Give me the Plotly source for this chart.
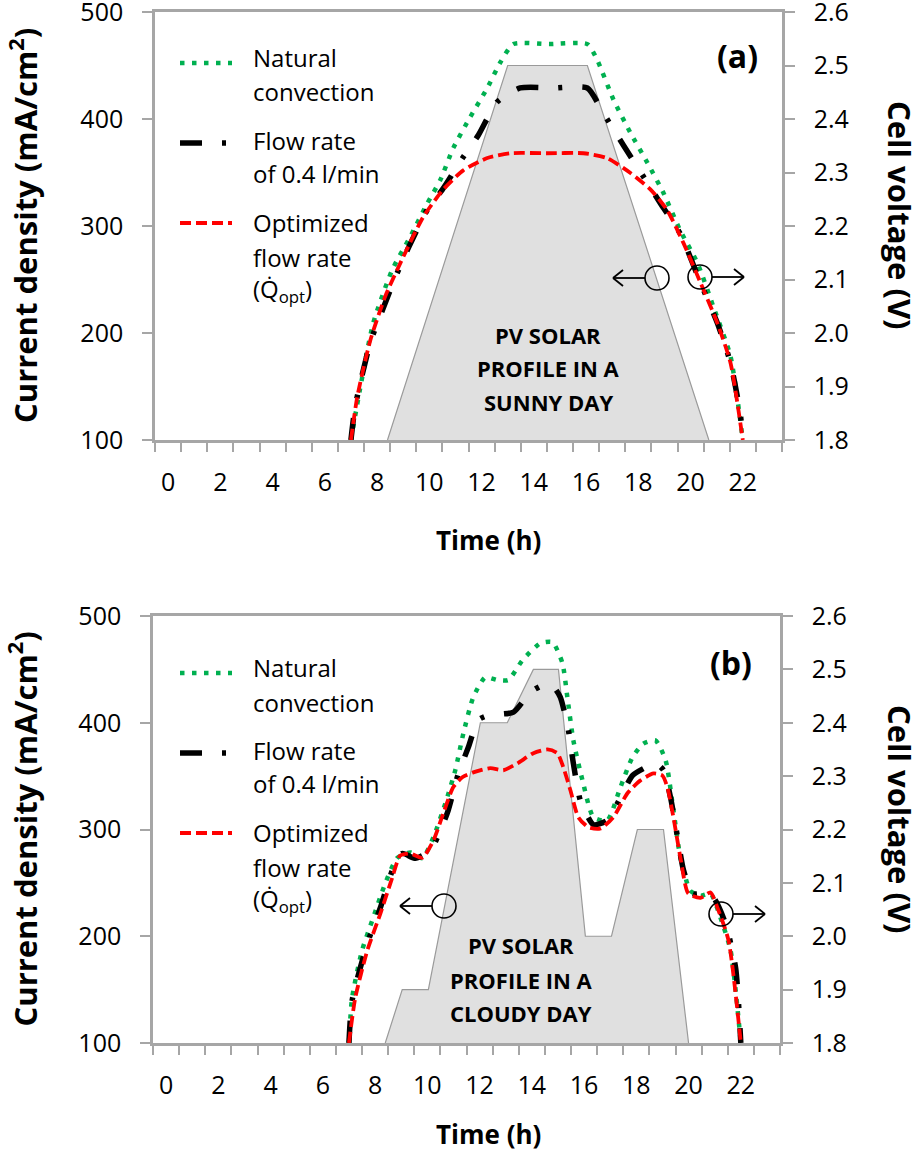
import plotly.graph_objects as go

W, H = 920, 1155
FONT = "Open Sans"

# ---------------- data ----------------
hour_tick_labels = [str(h) for h in range(0, 23, 2)]
cd_ticks = [100, 200, 300, 400, 500]
volt_ticks = [1.8, 1.9, 2.0, 2.1, 2.2, 2.3, 2.4, 2.5, 2.6]

# (a) sunny day - PV profile (current density, mA/cm2)
pv_a_h = [8.4, 13.0, 16.05, 20.7]
pv_a_cd = [100, 450, 450, 100]

# (a) cell voltage curves
a_nat_h = [7.0, 7.35, 7.85, 8.58, 9.27, 9.92, 10.42, 10.92, 11.57, 12.22, 12.72, 13.22, 14.6, 16.05,
           16.43, 17.05, 17.7, 18.35, 18.96, 19.6, 20.27, 20.88, 21.53, 22.0]
a_nat_v = [1.80, 1.896, 2.018, 2.118, 2.18, 2.242, 2.286, 2.346, 2.404, 2.458, 2.506, 2.54, 2.54, 2.54,
           2.51, 2.436, 2.374, 2.318, 2.262, 2.192, 2.13, 2.048, 1.956, 1.80]

a_flow_h = [7.0, 7.16, 7.74, 8.2, 8.7, 9.19, 9.92, 10.5, 11.26, 11.88, 12.6, 13.48, 14.8, 16.05,
            16.66, 17.43, 18.2, 18.85, 19.6, 20.38, 21.03, 21.53, 21.9, 22.0]
a_flow_v = [1.80, 1.862, 1.982, 2.042, 2.104, 2.158, 2.23, 2.268, 2.326, 2.37, 2.432, 2.458, 2.458, 2.458,
            2.411, 2.351, 2.292, 2.242, 2.186, 2.094, 2.018, 1.944, 1.85, 1.80]

a_opt_h = [7.0, 7.24, 7.74, 8.31, 9.0, 9.77, 10.53, 11.3, 12.22, 13.1, 14.5, 15.9,
           16.8, 17.7, 18.47, 19.1, 19.73, 20.38, 21.03, 21.53, 22.0]
a_opt_v = [1.80, 1.88, 1.986, 2.068, 2.142, 2.217, 2.268, 2.304, 2.327, 2.336, 2.336, 2.336,
           2.327, 2.299, 2.268, 2.23, 2.168, 2.094, 2.018, 1.944, 1.80]

# (b) cloudy day - PV profile
pv_b_h = [8.39, 9.04, 10.04, 12.03, 13.06, 14.06, 15.02, 16.05, 17.05, 18.04, 19.04, 20.0]
pv_b_cd = [100, 150, 150, 400, 400, 450, 450, 200, 200, 300, 300, 100]

# (b) cell voltage curves
b_nat_h = [7.0, 7.12, 7.5, 7.93, 8.39, 8.85, 9.35, 9.81, 10.23, 10.69, 11.07, 11.38, 11.76, 12.22,
           12.68, 13.1, 13.64, 14.33, 14.79, 15.17, 15.36, 15.59, 15.94, 16.36, 16.89, 17.39,
           17.85, 18.27, 18.73, 19.12, 19.42, 19.69, 20.07, 20.46, 20.84, 21.22, 21.61, 22.0]
b_nat_v = [1.80, 1.884, 1.973, 2.035, 2.099, 2.147, 2.157, 2.146, 2.185, 2.249, 2.311, 2.38, 2.448, 2.485,
           2.48, 2.48, 2.517, 2.549, 2.551, 2.512, 2.448, 2.367, 2.292, 2.223, 2.217, 2.279,
           2.335, 2.361, 2.367, 2.33, 2.236, 2.147, 2.085, 2.076, 2.08, 2.035, 1.973, 1.80]

b_flow_h = [7.0, 7.12, 7.7, 8.2, 8.66, 9.04, 9.54, 10.11, 10.5, 10.8, 11.19, 11.57, 11.95, 12.34,
            13.3, 13.94, 14.52, 14.83, 15.09, 15.4, 15.59, 15.86, 16.36, 16.89, 17.28, 17.85,
            18.3, 18.73, 19.04, 19.31, 19.58, 19.81, 20.15, 20.57, 20.96, 21.42, 21.8, 22.0]
b_flow_v = [1.80, 1.879, 1.986, 2.053, 2.123, 2.155, 2.146, 2.16, 2.198, 2.236, 2.305, 2.354, 2.405, 2.414,
            2.42, 2.457, 2.472, 2.467, 2.448, 2.386, 2.324, 2.254, 2.209, 2.217, 2.249, 2.301,
            2.315, 2.324, 2.311, 2.26, 2.185, 2.123, 2.08, 2.08, 2.072, 2.023, 1.941, 1.80]

b_opt_h = [7.0, 7.24, 7.7, 8.2, 8.66, 8.96, 9.35, 9.81, 10.23, 10.61, 10.99, 11.34, 11.76, 12.41,
           12.91, 13.45, 14.06, 14.6, 14.98, 15.21, 15.48, 15.78, 16.17, 16.63, 17.12, 17.66,
           18.16, 18.66, 19.0, 19.19, 19.42, 19.69, 19.99, 20.46, 20.84, 21.11, 21.53, 22.0]
b_opt_v = [1.80, 1.884, 1.973, 2.042, 2.11, 2.151, 2.155, 2.147, 2.179, 2.23, 2.279, 2.298, 2.307, 2.315,
           2.311, 2.324, 2.343, 2.35, 2.343, 2.316, 2.273, 2.223, 2.204, 2.202, 2.223, 2.268,
           2.292, 2.305, 2.301, 2.279, 2.223, 2.147, 2.08, 2.072, 2.082, 2.053, 1.992, 1.80]

# ---------------- styles ----------------
GREEN = "#00B050"
RED = "#FF0000"
BLACK = "#000000"
AX = "#A6A6A6"
GREEN_DASH = "4.5px,7.5px"
BLACK_DASH = "22px,20px,4px,20px"
RED_DASH = "11px,5px"


def px(x, y):
    return x / W, 1 - y / H


# panel geometry in pixels: (left, right, top, bottom)
panels = [
    dict(l=155, r=782, t=12, b=440, xa="x", ya="y", ya2="y2", pv=(pv_a_h, pv_a_cd),
         nat=(a_nat_h, a_nat_v), flow=(a_flow_h, a_flow_v), opt=(a_opt_h, a_opt_v),
         label="(a)", lab_xy=(737, 55), pv_text=["PV SOLAR", "PROFILE IN A", "SUNNY DAY"],
         pv_xy=(548, [335, 368, 402]), leg_dy=0, time_y=540,
         circles=[((657, 278), -1), ((700, 277), 1)]),
    dict(l=153, r=780, t=616, b=1043, xa="x2", ya="y3", ya2="y4", pv=(pv_b_h, pv_b_cd),
         nat=(b_nat_h, b_nat_v), flow=(b_flow_h, b_flow_v), opt=(b_opt_h, b_opt_v),
         label="(b)", lab_xy=(731, 662), pv_text=["PV SOLAR", "PROFILE IN A", "CLOUDY DAY"],
         pv_xy=(521, [945, 980, 1013]), leg_dy=610, time_y=1134,
         circles=[((444, 906), -1), ((721, 914), 1)]),
]

fig = go.Figure()
shapes = []
annotations = []

tickfont = dict(family=FONT, size=25, color="black")

for i, p in enumerate(panels):
    xa, ya, ya2 = p["xa"], p["ya"], p["ya2"]
    fig.add_trace(go.Scatter(x=p["pv"][0], y=p["pv"][1], xaxis=xa, yaxis=ya, fill="toself",
                             fillcolor="#E0E0E0", mode="lines",
                             line=dict(color="#9A9A9A", width=1.2), showlegend=False,
                             hoverinfo="skip"))
    fig.add_trace(go.Scatter(x=p["nat"][0], y=p["nat"][1], xaxis=xa, yaxis=ya2, mode="lines",
                             line=dict(color=GREEN, width=4.5, dash=GREEN_DASH, shape="spline",
                                       smoothing=0.6), showlegend=False))
    fig.add_trace(go.Scatter(x=p["flow"][0], y=p["flow"][1], xaxis=xa, yaxis=ya2, mode="lines",
                             line=dict(color=BLACK, width=5.5, dash=BLACK_DASH, shape="spline",
                                       smoothing=0.6), showlegend=False))
    fig.add_trace(go.Scatter(x=p["opt"][0], y=p["opt"][1], xaxis=xa, yaxis=ya2, mode="lines",
                             line=dict(color=RED, width=3.8, dash=RED_DASH, shape="spline",
                                       smoothing=0.6), showlegend=False))

    xdom = [p["l"] / W, p["r"] / W]
    ydom = [1 - p["b"] / H, 1 - p["t"] / H]
    xkey = "xaxis" if i == 0 else "xaxis2"
    ykey = "yaxis" if i == 0 else "yaxis3"
    y2key = "yaxis2" if i == 0 else "yaxis4"
    fig.update_layout({
        xkey: dict(domain=xdom, anchor=ya, range=[-0.5, 23.5], automargin=False,
                   tickvals=list(range(0, 23, 2)), ticktext=hour_tick_labels,
                   ticks="", showline=True, mirror=True, linecolor=AX, linewidth=2.5,
                   showgrid=False, zeroline=False, tickfont=tickfont,
                   ticklabelstandoff=18, ticklabeloverflow="allow",
                   minor=dict(tickvals=[k - 0.5 for k in range(0, 25)], ticks="outside",
                              ticklen=9, tickcolor=AX, tickwidth=2, showgrid=False)),
        ykey: dict(domain=ydom, anchor=xa, range=[100, 500], tickvals=cd_ticks, automargin=False,
                   ticks="outside", ticklen=10, tickcolor=AX, tickwidth=2,
                   showline=True, linecolor=AX, linewidth=2.5, showgrid=False,
                   zeroline=False, tickfont=tickfont, ticklabelstandoff=14,
                   ticklabeloverflow="allow"),
        y2key: dict(domain=ydom, anchor=xa, overlaying=ya, side="right", range=[1.8, 2.6],
                    tickvals=volt_ticks, tickformat=".1f", automargin=False,
                    ticks="outside", ticklen=10, tickcolor=AX, tickwidth=2,
                    showline=True, linecolor=AX, linewidth=2.5, showgrid=False,
                    zeroline=False, tickfont=tickfont, ticklabelstandoff=14,
                    ticklabeloverflow="allow"),
    })

    cy = (p["t"] + p["b"]) / 2
    # axis titles
    ax_, ay_ = px(23, cy)
    annotations.append(dict(x=ax_, y=ay_, xref="paper", yref="paper",
                            text="<b>Current density (mA/cm<sup>2</sup>)</b>", textangle=-90,
                            showarrow=False, font=dict(family=FONT, size=31, color="black"),
                            xanchor="center", yanchor="middle"))
    ax_, ay_ = px(900, p["t"] + 203)
    annotations.append(dict(x=ax_, y=ay_, xref="paper", yref="paper",
                            text="<b>Cell voltage (V)</b>", textangle=90,
                            showarrow=False, font=dict(family=FONT, size=31, color="black"),
                            xanchor="center", yanchor="middle"))
    ax_, ay_ = px(488, p["time_y"])
    annotations.append(dict(x=ax_, y=ay_, xref="paper", yref="paper", text="<b>Time (h)</b>",
                            showarrow=False, font=dict(family=FONT, size=26, color="black"),
                            xanchor="center", yanchor="middle"))
    # panel label
    ax_, ay_ = px(*p["lab_xy"])
    annotations.append(dict(x=ax_, y=ay_, xref="paper", yref="paper", text="<b>" + p["label"] + "</b>",
                            showarrow=False, font=dict(family=FONT, size=32, color="black"),
                            xanchor="center", yanchor="middle"))
    # PV text
    for line, yy in zip(p["pv_text"], p["pv_xy"][1]):
        ax_, ay_ = px(p["pv_xy"][0], yy)
        annotations.append(dict(x=ax_, y=ay_, xref="paper", yref="paper", text="<b>" + line + "</b>",
                                showarrow=False, font=dict(family=FONT, size=22, color="black"),
                                xanchor="center", yanchor="middle"))
    # legend
    d = p["leg_dy"]
    for (yy, col, wdt, dsh) in [(63, GREEN, 4.5, GREEN_DASH), (143, BLACK, 5.5, BLACK_DASH),
                                (223, RED, 3.8, RED_DASH)]:
        x0, y0 = px(180, yy + d)
        x1, y1 = px(232, yy + d)
        shapes.append(dict(type="line", xref="paper", yref="paper", x0=x0, y0=y0, x1=x1, y1=y1,
                           line=dict(color=col, width=wdt, dash=dsh)))
    for txt, yy in [("Natural", 57), ("convection", 92), ("Flow rate", 140), ("of 0.4 l/min", 173),
                    ("Optimized", 222), ("flow rate", 257), ("(Q\u0307<sub>opt</sub>)", 290)]:
        ax_, ay_ = px(251, yy + d)
        annotations.append(dict(x=ax_, y=ay_, xref="paper", yref="paper", text=txt,
                                showarrow=False, font=dict(family=FONT, size=24, color="black"),
                                xanchor="left", yanchor="middle"))
    # circles + arrows
    for (cx, cyy), direc in p["circles"]:
        r = 12
        x0, y0 = px(cx - r, cyy + r)
        x1, y1 = px(cx + r, cyy - r)
        shapes.append(dict(type="circle", xref="paper", yref="paper", x0=x0, y0=y0, x1=x1, y1=y1,
                           line=dict(color="black", width=1.6)))
        start = cx + direc * r
        tip = cx + direc * (r + 32)
        for (a, b) in [((start, cyy), (tip, cyy)),
                       ((tip - direc * 10, cyy - 8), (tip, cyy)),
                       ((tip - direc * 10, cyy + 8), (tip, cyy))]:
            ax0, ay0 = px(*a)
            ax1, ay1 = px(*b)
            shapes.append(dict(type="line", xref="paper", yref="paper", x0=ax0, y0=ay0,
                               x1=ax1, y1=ay1, line=dict(color="black", width=1.8)))

fig.update_layout(width=W, height=H, margin=dict(l=0, r=0, t=0, b=0, autoexpand=False),
                  paper_bgcolor="white", plot_bgcolor="white", showlegend=False,
                  shapes=shapes, annotations=annotations,
                  font=dict(family=FONT, color="black"))

fig.write_html("out.html", config={"displayModeBar": False},
               post_script="document.body.style.margin='0';document.body.style.overflow='hidden';")
